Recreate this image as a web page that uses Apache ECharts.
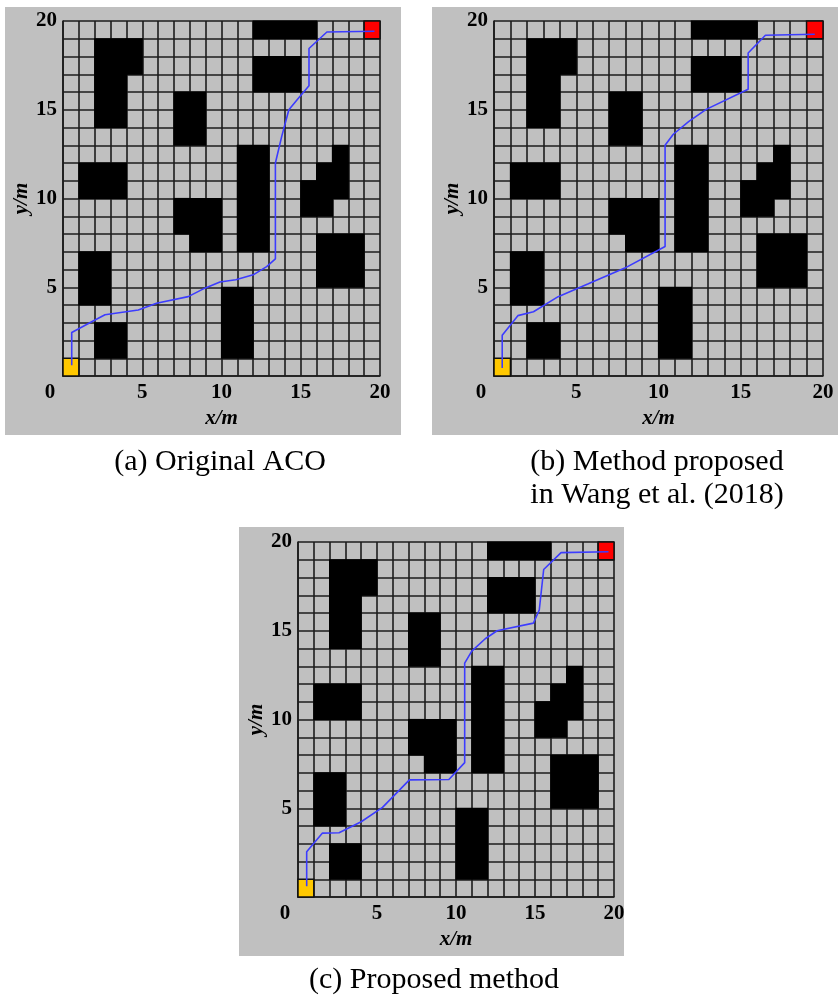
<!DOCTYPE html>
<html>
<head>
<meta charset="utf-8">
<script src="https://cdn.jsdelivr.net/npm/echarts@6/dist/echarts.min.js"></script>
<style>
  html, body { margin: 0; padding: 0; background: #ffffff; }
  #chart { width: 838px; height: 1001px; }
</style>
</head>
<body>
<div id="chart"></div>
<script>
// 20 m x 20 m grid map, 1 m cells
const MAP_SIZE = 20;
const TICK_STEP = 5;

// Obstacle blocks: [x0, y0, x1, y1] in metres (cell corners)
const OBSTACLES = [
  [12, 19, 16, 20],
  [2, 14, 4, 19],
  [4, 17, 5, 19],
  [12, 16, 15, 18],
  [7, 13, 9, 16],
  [11, 7, 13, 13],
  [15, 9, 16, 11],
  [16, 9, 17, 12],
  [17, 10, 18, 13],
  [1, 10, 4, 12],
  [7, 8, 8, 10],
  [8, 7, 10, 10],
  [16, 5, 19, 8],
  [1, 4, 3, 7],
  [10, 1, 12, 5],
  [2, 1, 4, 3]
];

// Start and goal cells: [x0, y0, x1, y1]
const START_CELL = [0, 0, 1, 1];
const GOAL_CELL = [19, 19, 20, 20];

// Planned paths (x, y in metres)
const PATH_ORIGINAL_ACO = [
  [0.55, 0.6], [0.55, 2.45], [1.9, 3.1], [2.65, 3.45], [4.75, 3.72], [5.9, 4.1],
  [7.9, 4.47], [8.95, 4.95], [9.9, 5.3], [10.9, 5.42], [12.0, 5.7], [12.85, 6.16],
  [13.4, 6.6], [13.4, 12.0], [13.8, 13.5], [14.25, 15.0], [14.85, 15.65],
  [15.52, 16.35], [15.52, 18.45], [16.65, 19.38], [19.65, 19.42]
];
const PATH_WANG_2018 = [
  [0.5, 0.45], [0.5, 2.3], [1.45, 3.4], [2.4, 3.62], [3.9, 4.47], [5.7, 5.18],
  [7.95, 6.08], [10.4, 7.3], [10.4, 13.0], [10.9, 13.62], [11.85, 14.35],
  [12.9, 15.02], [15.45, 16.15], [15.45, 18.2], [16.5, 19.2], [19.5, 19.25]
];
const PATH_PROPOSED = [
  [0.55, 0.6], [0.55, 2.55], [1.55, 3.6], [2.6, 3.62], [4.0, 4.24], [5.35, 5.05],
  [7.05, 6.6], [9.55, 6.62], [10.55, 7.57], [10.55, 13.18], [11.0, 13.85],
  [11.85, 14.55], [12.6, 15.0], [14.9, 15.43], [15.27, 16.17], [15.55, 18.45],
  [16.65, 19.4], [19.65, 19.45]
];

const CAPTION_A = ['(a) Original ACO'];
const CAPTION_B = ['(b) Method proposed', 'in Wang et al. (2018)'];
const CAPTION_C = ['(c) Proposed method'];

const SERIF = '"Liberation Serif", "Times New Roman", serif';
const PANEL_BG = '#c0c0c0';
const LINE_DARK = '#1c1c1c';
const PATH_BLUE = '#3c3cff';

// Panel layout: grid rectangle plus the grey backdrop around it
const PANELS = [
  { grid: { left: 63, top: 21, width: 317, height: 355 }, bg: [5, 7, 396, 428], path: PATH_ORIGINAL_ACO },
  { grid: { left: 494, top: 21, width: 329, height: 355 }, bg: [432, 7, 406, 428], path: PATH_WANG_2018 },
  { grid: { left: 298, top: 542, width: 316, height: 355 }, bg: [239, 527, 385, 429], path: PATH_PROPOSED }
];

function rectItem(params, api) {
  const a = api.coord([api.value(0), api.value(3)]);
  const b = api.coord([api.value(2), api.value(1)]);
  return {
    type: 'rect',
    shape: { x: a[0] - 0.6, y: a[1] - 0.6, width: b[0] - a[0] + 1.2, height: b[1] - a[1] + 1.2 },
    style: { fill: '#000000' }
  };
}

function markerItem(params, api) {
  const a = api.coord([api.value(0), api.value(3)]);
  const b = api.coord([api.value(2), api.value(1)]);
  return {
    type: 'rect',
    shape: { x: a[0], y: a[1], width: b[0] - a[0], height: b[1] - a[1] },
    style: { fill: api.visual('color'), stroke: '#111111', lineWidth: 1.5 }
  };
}

const labelFont = { fontFamily: SERIF, fontWeight: 'bold', fontSize: 21, color: '#000' };
const nameFont = { fontFamily: SERIF, fontWeight: 'bold', fontStyle: 'italic', fontSize: 21, color: '#000' };

const grids = [], xAxes = [], yAxes = [], series = [];
PANELS.forEach((p, i) => {
  grids.push(Object.assign({ show: true, backgroundColor: PANEL_BG, borderWidth: 0 }, p.grid));
  const axisCommon = {
    type: 'value', gridIndex: i, min: 0, max: MAP_SIZE, interval: 1,
    axisTick: { show: false },
    axisLine: { show: true, lineStyle: { color: LINE_DARK, width: 1.6 } },
    splitLine: { show: true, lineStyle: { color: LINE_DARK, width: 1.6 } },
    nameLocation: 'middle',
    nameTextStyle: nameFont
  };
  xAxes.push(Object.assign({}, axisCommon, {
    name: 'x/m', nameGap: 32,
    axisLabel: Object.assign({
      margin: 6,
      formatter: v => v === 0 ? '{o|0}' : (v % TICK_STEP === 0 ? String(v) : ''),
      rich: { o: Object.assign({ padding: [0, 26, 0, 0] }, labelFont) }
    }, labelFont)
  }));
  yAxes.push(Object.assign({}, axisCommon, {
    name: 'y/m', nameGap: 29,
    axisLabel: Object.assign({
      margin: 6,
      formatter: v => (v !== 0 && v % TICK_STEP === 0) ? String(v) : ''
    }, labelFont)
  }));
  series.push({
    type: 'custom', xAxisIndex: i, yAxisIndex: i, renderItem: rectItem,
    data: OBSTACLES, silent: true, z: 2
  });
  series.push({
    type: 'custom', xAxisIndex: i, yAxisIndex: i, renderItem: markerItem,
    data: [START_CELL], itemStyle: { color: '#ffc800' }, silent: true, z: 3
  });
  series.push({
    type: 'custom', xAxisIndex: i, yAxisIndex: i, renderItem: markerItem,
    data: [GOAL_CELL], itemStyle: { color: '#ff0000' }, silent: true, z: 3
  });
  series.push({
    type: 'line', xAxisIndex: i, yAxisIndex: i, data: p.path,
    showSymbol: false, symbol: 'none', silent: true, z: 5,
    lineStyle: { color: PATH_BLUE, width: 1.6 }
  });
});

function caption(lines, cx, cy, lineH) {
  return lines.map((t, k) => ({
    type: 'text', x: cx, y: cy + k * lineH, z: 10,
    style: { text: t, font: '30px ' + SERIF, fill: '#000', textAlign: 'center', textVerticalAlign: 'middle' }
  }));
}

const graphics = PANELS.map(p => ({
  type: 'rect', z: -10, silent: true,
  shape: { x: p.bg[0], y: p.bg[1], width: p.bg[2], height: p.bg[3] },
  style: { fill: PANEL_BG }
})).concat(
  caption(CAPTION_A, 220, 462, 33),
  caption(CAPTION_B, 657, 462, 33),
  caption(CAPTION_C, 434, 980, 33)
);

const chart = echarts.init(document.getElementById('chart'), null, { renderer: 'canvas' });
chart.setOption({
  animation: false,
  backgroundColor: '#ffffff',
  grid: grids,
  xAxis: xAxes,
  yAxis: yAxes,
  series: series,
  graphic: { elements: graphics }
});
</script>
</body>
</html>
